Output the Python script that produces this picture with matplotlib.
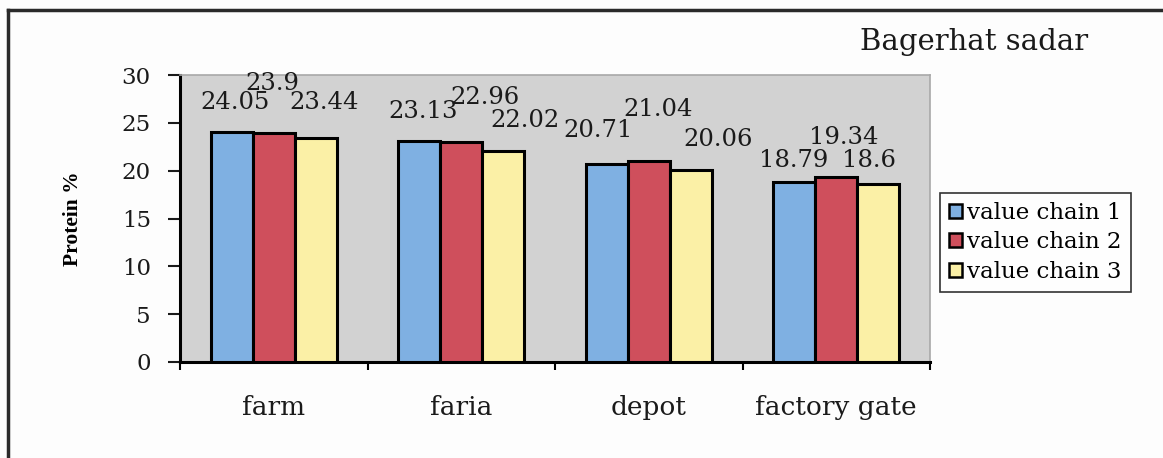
import matplotlib.pyplot as plt
import numpy as np
from matplotlib.lines import Line2D

categories = ["farm", "faria", "depot", "factory gate"]
series_names = ["value chain 1", "value chain 2", "value chain 3"]
chain1 = [24.05, 23.13, 20.71, 18.79]
chain2 = [23.9, 22.96, 21.04, 19.34]
chain3 = [23.44, 22.02, 20.06, 18.6]
label_text1 = ["24.05", "23.13", "20.71", "18.79"]
label_text2 = ["23.9", "22.96", "21.04", "19.34"]
label_text3 = ["23.44", "22.02", "20.06", "18.6"]

# label offsets (pixels) from the bar top, mimicking the staggered Excel labels
label_dx = [[3, 4, -9, -1], [-1, 24, 9, 7], [8, 22, 27, -9]]
label_dy = [[29, 29, 33, 22], [50, 45, 51, 39], [35, 31, 31, 24]]

colors = ["#7fb0e2", "#cf4f5c", "#fbf0a6"]
bg_gray = "#d2d2d2"
serif = ["DejaVu Serif"]

fig = plt.figure(figsize=(11.63, 4.58), dpi=100)
fig.patch.set_facecolor("#fdfdfd")
ax = fig.add_axes([180 / 1163, 1 - 362 / 458, 750 / 1163, 287 / 458])
ax.set_facecolor(bg_gray)

x = np.arange(len(categories))
w = 0.224
all_series = [chain1, chain2, chain3]
all_labels = [label_text1, label_text2, label_text3]
for i, (vals, name) in enumerate(zip(all_series, series_names)):
    bars = ax.bar(x + (i - 1) * w, vals, w, color=colors[i], edgecolor="black",
                  linewidth=2.2, label=name, zorder=3)
    for j, b in enumerate(bars):
        ax.annotate(all_labels[i][j], (b.get_x() + b.get_width() / 2, b.get_height()),
                    xytext=(label_dx[i][j], label_dy[i][j]), textcoords="offset pixels",
                    ha="center", va="center", fontsize=17.5, family=serif,
                    color="#1a1a1a", zorder=5, annotation_clip=False)

ax.set_xlim(-0.5, len(categories) - 0.5)
ax.set_ylim(0, 30)
ax.set_yticks(range(0, 31, 5))
ax.set_yticklabels([str(v) for v in range(0, 31, 5)], family=serif, fontsize=16.5)
ax.tick_params(axis="y", direction="out", length=9, width=1.5, pad=12, colors="#1a1a1a")

ax.set_xticks(np.arange(len(categories) + 1) - 0.5)
ax.set_xticklabels([])
ax.tick_params(axis="x", which="major", direction="out", length=6, width=1.5)
ax.set_xticks(x, minor=True)
ax.set_xticklabels(categories, minor=True, family=serif, fontsize=19, color="#1a1a1a")
ax.tick_params(axis="x", which="minor", length=0, pad=24)

ax.set_ylabel("Protein %", family=["Liberation Serif"], fontweight="bold", fontsize=15.5,
              labelpad=28)

for side in ["left", "bottom"]:
    ax.spines[side].set_color("black")
    ax.spines[side].set_linewidth(2.2)
for side in ["top", "right"]:
    ax.spines[side].set_color("#a8a8a8")
    ax.spines[side].set_linewidth(1.2)

leg = ax.legend(loc="upper left", bbox_to_anchor=(940 / 1163, 1 - 193 / 458),
                bbox_transform=fig.transFigure, prop={"family": serif, "size": 16.5},
                frameon=True, fancybox=False, edgecolor="black", handlelength=0.55,
                handleheight=0.55, handletextpad=0.25, labelspacing=0.32,
                borderpad=0.4, borderaxespad=0)
leg.get_frame().set_linewidth(1.2)
for h in leg.legend_handles:
    h.set_linewidth(1.8)

fig.text(1088 / 1163, 1 - 42 / 458, "Bagerhat sadar", ha="right", va="center",
         family=serif, fontsize=21, color="#1a1a1a")

# outer frame of the scanned figure
fig.add_artist(Line2D([8 / 1163, 1.0], [1 - 10 / 458, 1 - 10 / 458],
                      transform=fig.transFigure, color="#2a2a2a", linewidth=2.5))
fig.add_artist(Line2D([8 / 1163, 8 / 1163], [0, 1 - 10 / 458],
                      transform=fig.transFigure, color="#2a2a2a", linewidth=2.5))

fig.savefig("out.png", dpi=100, facecolor=fig.get_facecolor())
plt.close(fig)
